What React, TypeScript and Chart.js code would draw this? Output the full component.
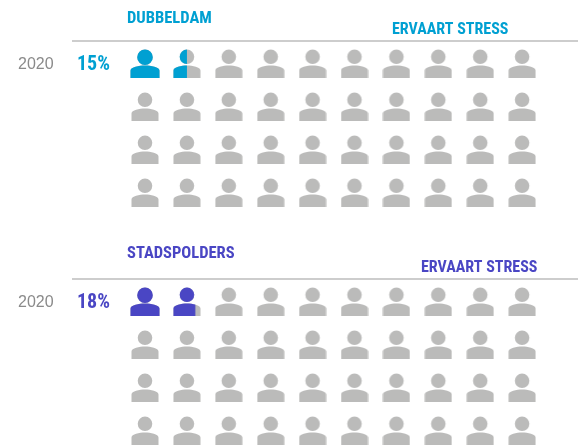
import React, { useEffect, useRef } from "react";
import { Chart, registerables } from "chart.js";

Chart.register(...registerables);

const columns = [0, 1, 2, 3, 4, 5, 6, 7, 8, 9];
const rows = [0, 1, 2, 3];
const year = "2020";
const metric = "ERVAART STRESS";
const panelNames = ["DUBBELDAM", "STADSPOLDERS"];
const panelValues = [15, 18];
const panelValueLabels = ["15%", "18%"];
const panelColors = ["#00A0D2", "#4A46C4"];
const pointsPerIcon = 10;

const GREY = "#BBBBBA";
const CONDENSED = '"Roboto Condensed", "Liberation Sans Narrow", "Liberation Sans"';

function personPath(ctx: CanvasRenderingContext2D, w: number, h: number) {
  const cx = w / 2;
  const headR = w * 0.26;
  ctx.beginPath();
  ctx.arc(cx, headR + 0.5, headR, 0, Math.PI * 2);
  ctx.closePath();
  const top = h * 0.55;
  const bottom = h - 1;
  ctx.moveTo(0.5, bottom);
  ctx.lineTo(0.5, top + h * 0.17);
  ctx.bezierCurveTo(0.5, top + 1.5, w * 0.3, top, cx, top);
  ctx.bezierCurveTo(w * 0.7, top, w - 0.5, top + 1.5, w - 0.5, top + h * 0.17);
  ctx.lineTo(w - 0.5, bottom);
  ctx.closePath();
}

function makeIcon(fill: number, color: string): HTMLCanvasElement {
  const big = fill >= 1;
  const w = big ? 30 : 28;
  const h = 30;
  const c = document.createElement("canvas");
  c.width = w;
  c.height = h;
  const ctx = c.getContext("2d")!;
  personPath(ctx, w, h);
  ctx.fillStyle = GREY;
  ctx.fill();
  if (fill > 0) {
    ctx.save();
    ctx.beginPath();
    ctx.rect(0, 0, w * fill, h);
    ctx.clip();
    personPath(ctx, w, h);
    ctx.fillStyle = color;
    ctx.fill();
    ctx.restore();
  }
  return c;
}

function Panel({ index, height, nameY }: { index: number; height: number; nameY: number }) {
  const ref = useRef<HTMLCanvasElement>(null);
  useEffect(() => {
    const color = panelColors[index];
    const units = panelValues[index] / pointsPerIcon;
    const points = rows.flatMap((r) => columns.map((c) => ({ x: c, y: r })));
    const icons = points.map((p) => {
      const i = p.y * columns.length + p.x;
      return makeIcon(Math.max(0, Math.min(1, units - i)), color);
    });
    const colStep = 41.9;
    const rowStep = 43;
    const x0 = 145;
    const y0 = 64;
    const textPlugin = {
      id: "panelText",
      afterDatasetsDraw(chart: Chart) {
        const ctx = chart.ctx;
        ctx.save();
        ctx.strokeStyle = "#BDBDBD";
        ctx.lineWidth = 1.5;
        ctx.beginPath();
        ctx.moveTo(72, 41);
        ctx.lineTo(578, 41);
        ctx.stroke();
        ctx.textBaseline = "middle";
        ctx.textAlign = "left";
        ctx.fillStyle = color;
        ctx.font = `bold 16.5px ${CONDENSED}`;
        ctx.fillText(panelNames[index], 127, nameY + 1);
        ctx.font = `bold 16px ${CONDENSED}`;
        ctx.fillText(metric, index === 0 ? 392 : 421, 30);
        ctx.font = `bold 20px ${CONDENSED}`;
        ctx.fillText(panelValueLabels[index], 77, 65);
        ctx.fillStyle = "#8A8A8A";
        ctx.font = '16px "Liberation Sans"';
        ctx.fillText(year, 18, 65);
        ctx.restore();
      },
    };
    const chart = new Chart(ref.current!, {
      type: "scatter",
      data: {
        datasets: [
          {
            data: points,
            pointStyle: icons as any,
            pointRadius: 14,
            clip: false as any,
          },
        ],
      },
      options: {
        animation: false,
        responsive: false,
        layout: { padding: 0, autoPadding: false },
        plugins: { legend: { display: false }, tooltip: { enabled: false }, title: { display: false } },
        scales: {
          x: { type: "linear", display: false, min: -x0 / colStep, max: (578 - x0) / colStep },
          y: { type: "linear", display: false, reverse: true, min: -y0 / rowStep, max: (height - y0) / rowStep },
        },
      },
      plugins: [textPlugin],
    });
    return () => chart.destroy();
  }, [index, height, nameY]);
  return <canvas ref={ref} width={578} height={height} style={{ display: "block", width: 578, height }} />;
}

export default function App() {
  useEffect(() => {
    document.body.style.margin = "0";
  }, []);
  return (
    <div style={{ width: 578, height: 445, overflow: "hidden", background: "#fff" }}>
      <Panel index={0} height={238} nameY={18} />
      <Panel index={1} height={207} nameY={15} />
    </div>
  );
}
